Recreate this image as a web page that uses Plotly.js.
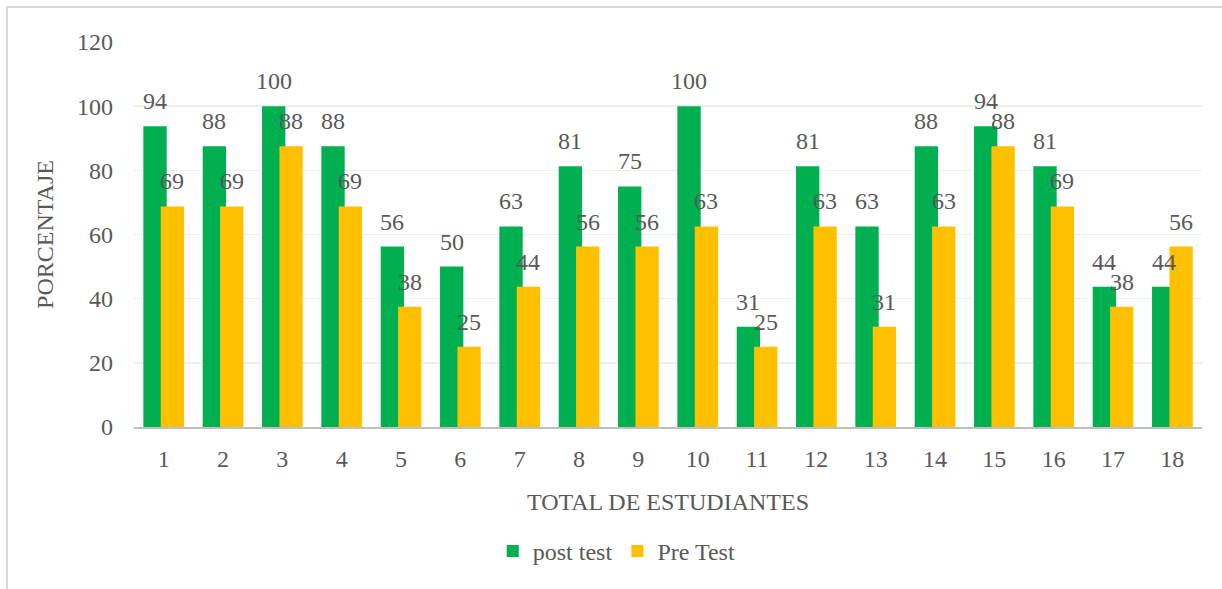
<!DOCTYPE html>
<html>
<head>
<meta charset="utf-8">
<script src="https://cdn.plot.ly/plotly-3.0.1.min.js"></script>
<style>
  html, body { margin: 0; padding: 0; background: #fff; }
  #wrap { position: relative; width: 1222px; height: 589px; }
  #chart { width: 1222px; height: 589px; }
  #frame { position: absolute; left: 6px; top: 6px; width: 1300px; height: 700px;
           border-top: 2px solid #D9D9D9; border-left: 2px solid #D9D9D9; pointer-events: none; }
</style>
</head>
<body>
<div id="wrap">
  <div id="chart"></div>
  <div id="frame"></div>
</div>
<script>
const students = [1, 2, 3, 4, 5, 6, 7, 8, 9, 10, 11, 12, 13, 14, 15, 16, 17, 18];
const postTest = [93.75, 87.5, 100, 87.5, 56.25, 50, 62.5, 81.25, 75, 100, 31.25, 81.25, 62.5, 87.5, 93.75, 81.25, 43.75, 43.75];
const preTest  = [68.75, 68.75, 87.5, 68.75, 37.5, 25, 43.75, 56.25, 56.25, 62.5, 25, 62.5, 31.25, 62.5, 87.5, 68.75, 37.5, 56.25];
const seriesNames = ['post test', 'Pre Test'];
const yTicks = [0, 20, 40, 60, 80, 100, 120];

const GREEN = '#00B050', GOLD = '#FFC000', TXT = '#595959';
const FONT = 'Liberation Serif, Times New Roman, serif';
const FS = 24;
const BW = 0.393;

const traces = [
  { type: 'bar', name: seriesNames[0], x: students, y: postTest, width: BW, offset: -0.342,
    marker: { color: GREEN }, hoverinfo: 'x+y' },
  { type: 'bar', name: seriesNames[1], x: students, y: preTest, width: BW, offset: -0.049,
    marker: { color: GOLD }, hoverinfo: 'x+y' }
];

function labels(vals, xs) {
  return vals.map((v, i) => ({
    x: students[i], y: v, text: String(Math.round(v)), showarrow: false,
    xanchor: 'center', yanchor: 'bottom', xshift: xs, yshift: 10,
    font: { family: FONT, size: FS, color: TXT }
  }));
}

const layout = {
  width: 1222, height: 589,
  margin: { l: 134, r: 20, t: 42, b: 162 },
  paper_bgcolor: '#fff', plot_bgcolor: '#fff',
  barmode: 'overlay',
  font: { family: FONT, size: FS, color: TXT },
  showlegend: true,
  legend: { orientation: 'h', x: 0.452, xanchor: 'center', y: -0.323, yanchor: 'middle',
            font: { family: FONT, size: FS, color: TXT } },
  xaxis: {
    range: [0.5, 18.5], tickmode: 'array', tickvals: students, ticktext: students.map(String),
    showgrid: false, zeroline: false, showline: true, linecolor: '#BFBFBF', linewidth: 2,
    ticks: '', ticklabelstandoff: 9,
    tickfont: { family: FONT, size: FS, color: TXT },
    title: { text: 'TOTAL DE ESTUDIANTES', standoff: 22, font: { family: FONT, size: FS, color: TXT } }
  },
  yaxis: {
    range: [0, 120], tickmode: 'array', tickvals: yTicks, ticktext: yTicks.map(String),
    showgrid: true, gridcolor: '#EEEEEE', gridwidth: 1.5, zeroline: false, showline: false,
    ticks: '', ticklabelstandoff: 20,
    tickfont: { family: FONT, size: FS, color: TXT },
    title: { text: 'PORCENTAJE', standoff: 16, font: { family: FONT, size: FS, color: TXT } }
  },
  annotations: labels(postTest, -8.6).concat(labels(preTest, 8.7))
};

Plotly.newPlot('chart', traces, layout, { displayModeBar: false, staticPlot: true });
</script>
</body>
</html>
